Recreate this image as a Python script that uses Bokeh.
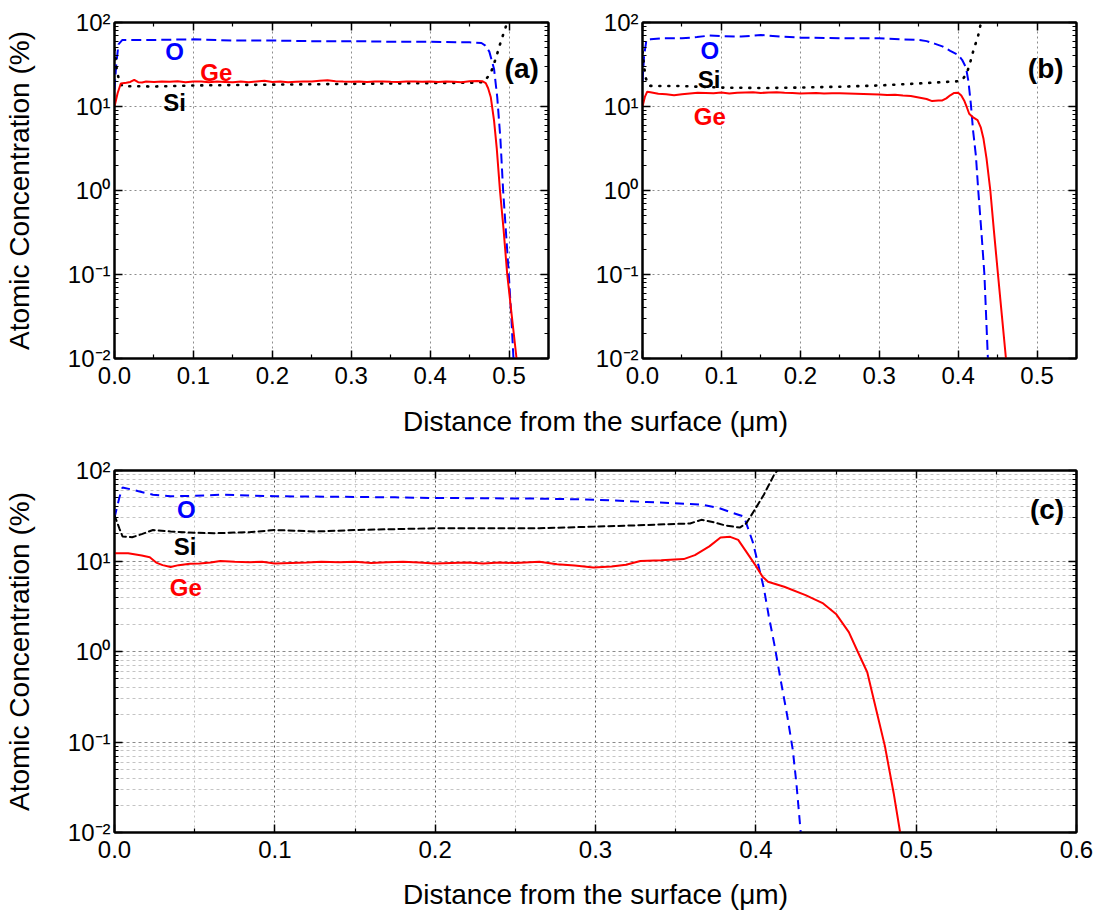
from bokeh.plotting import figure
from bokeh.layouts import column, row
from bokeh.models import (Range1d, FixedTicker, LinearAxis, LogAxis, Label,
                          NumeralTickFormatter)
from bokeh.embed import file_html
from bokeh.resources import INLINE

FONT = "Liberation Sans"

# ---------------- data ----------------
# panel (a)
a_O_x = [0, 0.002, 0.005, 0.01, 0.05, 0.1, 0.15, 0.2, 0.25, 0.3, 0.35, 0.4, 0.45, 0.465, 0.47,
         0.475, 0.481, 0.485, 0.489, 0.4925, 0.496, 0.5, 0.503, 0.5056]
a_O_y = [16, 30, 55, 62, 62, 63, 61, 61, 60, 60, 59, 59, 58, 57, 53, 45, 28, 13, 4.2, 1.0,
         0.33, 0.09, 0.03, 0.01]
a_Si_x = [0, 0.003, 0.006, 0.01, 0.05, 0.1, 0.15, 0.2, 0.25, 0.3, 0.35, 0.4, 0.45, 0.468,
          0.4768, 0.4835, 0.4895, 0.4954, 0.4975]
a_Si_y = [48, 27, 20, 17.5, 17.3, 17.8, 18.0, 18.2, 18.4, 18.6, 18.8, 19.0, 19.2, 19.5, 25, 38,
          59, 86, 100]
a_Ge_x = [0, 0.004, 0.008, 0.015, 0.02, 0.025, 0.03, 0.035, 0.04, 0.05, 0.06, 0.07, 0.08, 0.09,
          0.1, 0.11, 0.12, 0.13, 0.14, 0.15, 0.16, 0.17, 0.18, 0.19, 0.2, 0.21, 0.22, 0.23, 0.24,
          0.25, 0.26, 0.27, 0.28, 0.29, 0.3, 0.31, 0.32, 0.33, 0.34, 0.35, 0.36, 0.37, 0.38, 0.39,
          0.4, 0.41, 0.42, 0.43, 0.44, 0.45, 0.46, 0.466, 0.4705, 0.4735, 0.4768, 0.481, 0.4844,
          0.4885, 0.493, 0.4977, 0.5035, 0.5095]
a_Ge_y = [10, 14.5, 18.8, 19.2, 19.6, 20.8, 19.5, 19.3, 19.8, 19.6, 19.9, 19.7, 20.0, 19.4,
          19.8, 19.9, 19.5, 19.8, 19.6, 19.4, 19.8, 19.5, 19.9, 20.2, 19.6, 19.8, 19.5, 19.7, 19.9,
          19.8, 20.2, 20.6, 20.0, 19.8, 19.7, 19.9, 19.6, 19.8, 19.9, 19.7, 19.6, 19.8, 19.9, 19.7,
          19.8, 19.6, 19.9, 19.7, 19.5, 20.0, 20.1, 20.0, 19.0, 16.5, 13.0, 6.8, 3.2,
          1.0, 0.35, 0.1, 0.032, 0.01]

# panel (b)
b_O_x = [0, 0.002, 0.005, 0.01, 0.025, 0.05, 0.069, 0.085, 0.1, 0.125, 0.15, 0.175, 0.2, 0.25,
         0.3, 0.33, 0.35, 0.36, 0.37, 0.38, 0.39, 0.4, 0.405, 0.41, 0.413, 0.416, 0.419, 0.4225,
         0.4255, 0.4295, 0.4333, 0.4377]
b_O_y = [20, 40, 62, 63, 65, 65, 67, 70, 69, 68, 71, 68, 66, 65, 65, 63, 62, 60, 56, 52, 46, 41,
         36, 29, 20, 11, 5.1, 2.6, 1.0, 0.32, 0.1, 0.01]
b_Si_x = [0, 0.002, 0.004, 0.007, 0.01, 0.05, 0.1, 0.15, 0.2, 0.25, 0.3, 0.35, 0.38, 0.4, 0.405,
          0.411, 0.4148, 0.418, 0.4216, 0.4254, 0.428, 0.4295]
b_Si_y = [45, 30, 22, 18.5, 17.6, 17.5, 16.8, 16.6, 16.8, 17.2, 17.8, 18.8, 19.5, 20.0, 20.5, 25,
          32, 42, 54, 70, 91, 100]
b_Ge_x = [0, 0.003, 0.006, 0.01, 0.02, 0.03, 0.04, 0.05, 0.06, 0.07, 0.08, 0.09, 0.1, 0.11, 0.12,
          0.13, 0.14, 0.15, 0.16, 0.17, 0.18, 0.19, 0.2, 0.21, 0.22, 0.23, 0.24, 0.25, 0.26, 0.27,
          0.28, 0.29, 0.3, 0.31, 0.32, 0.33, 0.34, 0.35, 0.36, 0.367, 0.375, 0.38, 0.385, 0.39,
          0.395, 0.4, 0.404, 0.4076, 0.411, 0.414, 0.419, 0.4246, 0.4288, 0.432, 0.436, 0.4408,
          0.4455, 0.4505, 0.4555, 0.4606]
b_Ge_y = [10, 13, 15, 14.8, 14.2, 14.0, 13.6, 14.0, 14.3, 14.6, 14.5, 14.4, 14.7, 14.3, 14.6,
          14.7, 14.8, 14.5, 14.7, 14.8, 14.6, 14.5, 14.3, 14.4, 14.5, 14.3, 14.4, 14.4, 14.3, 14.2,
          14.1, 14.0, 13.9, 13.7, 13.8, 13.5, 13.3, 12.8, 12.3, 11.6, 11.8, 11.8, 12.5, 13.6,
          14.5, 14.6, 13.5, 11.8, 9.8, 8.2, 7.4, 6.9, 5.6, 4.2, 2.4, 1.0,
          0.32, 0.1, 0.032, 0.01]

# panel (c)
c_O_x = [0, 0.003, 0.005, 0.01, 0.015, 0.024, 0.035, 0.05, 0.066, 0.084, 0.1, 0.125, 0.151,
         0.175, 0.2, 0.235, 0.265, 0.3, 0.332, 0.359, 0.366, 0.377, 0.386, 0.3926, 0.398, 0.4016,
         0.405, 0.408, 0.4117, 0.415, 0.4197, 0.423, 0.4253, 0.428]
c_O_y = [30, 50, 65, 62, 59, 54, 52, 52.5, 54, 53, 52, 51.5, 51, 50.5, 49.7, 49.3, 48.9, 47.6,
         44.9, 42.7, 42, 38.5, 33.8, 31, 16.4, 9.0, 5.0, 2.5, 1.16, 0.54, 0.19, 0.083, 0.035, 0.01]
c_Si_x = [0, 0.003, 0.005, 0.011, 0.017, 0.024, 0.035, 0.05, 0.062, 0.084, 0.1, 0.125, 0.151,
          0.175, 0.2, 0.235, 0.265, 0.3, 0.332, 0.359, 0.366, 0.373, 0.381, 0.39, 0.394, 0.3993,
          0.405, 0.4117, 0.4135]
c_Si_y = [32, 23, 18.7, 18.3, 19.8, 22, 21.2, 20.5, 20.3, 20.8, 22, 21.2, 22, 22.5, 23, 23, 23,
          24, 25, 26, 28.5, 27, 24.7, 23.4, 26, 36.8, 54, 92, 100]
c_Ge_x = [0, 0.0085, 0.017, 0.022, 0.026, 0.03, 0.035, 0.04, 0.047, 0.053, 0.06, 0.066, 0.075,
          0.084, 0.092, 0.1, 0.11, 0.12, 0.129, 0.14, 0.15, 0.16, 0.17, 0.18, 0.19, 0.2, 0.21,
          0.22, 0.23, 0.24, 0.25, 0.265, 0.276, 0.287, 0.2987, 0.31, 0.319, 0.328, 0.341, 0.355,
          0.362, 0.371, 0.378, 0.384, 0.389, 0.394, 0.3997, 0.4042, 0.4076, 0.4177, 0.431, 0.442,
          0.45, 0.458, 0.4635, 0.4695, 0.475, 0.4805, 0.486, 0.49]
c_Ge_y = [12.2, 12.2, 11.5, 11.0, 9.6, 9.0, 8.6, 9.0, 9.3, 9.4, 9.6, 10.0, 9.8, 9.7, 9.8, 9.4,
          9.5, 9.6, 9.8, 9.7, 9.8, 9.5, 9.7, 9.8, 9.6, 9.4, 9.5, 9.6, 9.4, 9.6, 9.5,
          9.8, 9.2, 8.9, 8.5, 8.7, 9.1, 10.0, 10.2, 10.5,
          11.6, 14.5, 18.2, 18.5, 17.1, 12.7, 9.0, 6.7, 5.9,
          5.2, 4.2, 3.4, 2.6, 1.64, 1.0, 0.59, 0.23, 0.09, 0.027, 0.01]

# ticks
y_ticks = [0.01, 0.1, 1, 10, 100]
y_tick_labels = ["10\u207b\u00b2", "10\u207b\u00b9", "10\u2070", "10\u00b9", "10\u00b2"]
y_minor = [m * 10.0 ** e for e in range(-2, 2) for m in range(2, 10)]
x_ticks_top = [0.0, 0.1, 0.2, 0.3, 0.4, 0.5]
x_minor_top = [0.05, 0.15, 0.25, 0.35, 0.45, 0.55]
x_ticks_c = [0.0, 0.1, 0.2, 0.3, 0.4, 0.5, 0.6]
x_minor_c = [0.05, 0.15, 0.25, 0.35, 0.45, 0.55]

X_TITLE = "Distance from the surface (\u03bcm)"
Y_TITLE = "Atomic Concentration (%)"


def style_axis(ax, show_labels):
    ax.axis_line_color = "black"
    ax.axis_line_width = 2
    ax.major_tick_line_color = "black"
    ax.minor_tick_line_color = "black"
    ax.major_tick_line_width = 1.5
    ax.minor_tick_line_width = 1.2
    ax.major_tick_in = 8
    ax.major_tick_out = 0
    ax.minor_tick_in = 4
    ax.minor_tick_out = 0
    ax.major_label_text_font = FONT
    if show_labels:
        ax.major_label_text_color = "black"
        ax.major_label_text_font_size = "24px"
    else:
        ax.major_label_text_color = None
        ax.major_label_text_font_size = "4px"
        ax.major_label_standoff = 0
    ax.axis_label_text_font = FONT
    ax.axis_label_text_font_size = "28px"
    ax.axis_label_text_font_style = "normal"
    ax.axis_label_text_color = "black"


def make_panel(w, h, bl, br, bt, bb, xmax, xticks, xminor, dense):
    p = figure(width=w, height=h, x_range=Range1d(0, xmax), y_range=Range1d(0.01, 100),
               y_axis_type="log", output_backend="svg", toolbar_location=None,
               min_border_left=bl, min_border_right=br, min_border_top=bt, min_border_bottom=bb)
    p.outline_line_color = "black"
    p.outline_line_width = 2
    p.background_fill_color = "white"
    xt = FixedTicker(ticks=xticks, minor_ticks=xminor)
    yt = FixedTicker(ticks=y_ticks, minor_ticks=y_minor)
    bottom = p.below[0]
    left = p.left[0]
    bottom.ticker = xt
    bottom.formatter = NumeralTickFormatter(format="0.0")
    left.ticker = yt
    left.major_label_overrides = dict(zip(y_ticks, y_tick_labels))
    top = LinearAxis(ticker=xt)
    right = LogAxis(ticker=yt)
    p.add_layout(top, "above")
    p.add_layout(right, "right")
    style_axis(bottom, True)
    style_axis(left, True)
    style_axis(top, False)
    style_axis(right, False)
    bottom.major_label_standoff = 8
    left.major_label_standoff = 4
    xg, yg = p.xgrid[0], p.ygrid[0]
    xg.ticker = xt
    yg.ticker = yt
    if dense:
        xg.grid_line_color = "#5a5a5a"
        xg.grid_line_dash = "2 3"
        yg.grid_line_color = "#8a8a8a"
        yg.grid_line_dash = "3 3"
        xg.minor_grid_line_color = "#c4c4c4"
        xg.minor_grid_line_dash = "2 3"
        yg.minor_grid_line_color = "#c4c4c4"
        yg.minor_grid_line_dash = "3 3"
    else:
        for g in (xg, yg):
            g.grid_line_color = "#8c8c8c"
            g.grid_line_dash = "2 3"
            g.grid_line_width = 1
    return p


def add_curves(p, ox, oy, sx, sy, gx, gy, si_dash, si_width, o_dash):
    p.line(ox, oy, line_color="#0000ff", line_width=2, line_dash=o_dash)
    p.line(sx, sy, line_color="black", line_width=si_width, line_dash=si_dash, line_cap="round")
    p.line(gx, gy, line_color="#ff0000", line_width=2)


def add_text(p, x, y, text, color, size="24px"):
    p.add_layout(Label(x=x, y=y, text=text, text_color=color, text_font=FONT,
                       text_font_style="bold", text_font_size=size,
                       text_align="center", text_baseline="middle"))


# ---------------- panel (a) ----------------
pa = make_panel(580, 400, 114, 32, 22, 42, 0.55, x_ticks_top, x_minor_top, False)
pa.left[0].axis_label = Y_TITLE
pa.left[0].axis_label_standoff = 30
add_curves(pa, a_O_x, a_O_y, a_Si_x, a_Si_y, a_Ge_x, a_Ge_y, "1 8", 2.6, "10 5")
add_text(pa, 0.076, 45, "O", "#0000ff")
add_text(pa, 0.129, 25.4, "Ge", "#ff0000")
add_text(pa, 0.076, 11.2, "Si", "black")
add_text(pa, 0.516, 28.6, "(a)", "black", "28px")

# ---------------- panel (b) ----------------
pb = make_panel(523, 400, 62, 27, 22, 42, 0.55, x_ticks_top, x_minor_top, False)
add_curves(pb, b_O_x, b_O_y, b_Si_x, b_Si_y, b_Ge_x, b_Ge_y, "1 8", 2.6, "10 5")
add_text(pb, 0.0853, 47, "O", "#0000ff")
add_text(pb, 0.0845, 20.7, "Si", "black")
add_text(pb, 0.0853, 7.6, "Ge", "#ff0000")
add_text(pb, 0.511, 28.6, "(b)", "black", "28px")

# ---------------- shared x title of the upper row (centred on the common width) ----------------
pt = figure(width=1103, height=45, x_range=Range1d(0, 1), y_range=Range1d(0, 45),
            output_backend="svg", toolbar_location=None,
            min_border_left=114, min_border_right=27, min_border_top=0, min_border_bottom=0,
            x_axis_location=None, y_axis_location=None)
pt.outline_line_color = None
pt.grid.visible = False
pt.add_layout(Label(x=0.5, y=24, text=X_TITLE, text_font=FONT, text_font_size="28px",
                    text_color="black", text_align="center", text_baseline="middle"))

# ---------------- panel (c) ----------------
pc = make_panel(1103, 473, 114, 27, 25, 86, 0.6, x_ticks_c, x_minor_c, True)
pc.left[0].axis_label = Y_TITLE
pc.left[0].axis_label_standoff = 30
pc.below[0].axis_label = X_TITLE
pc.below[0].axis_label_standoff = 18
add_curves(pc, c_O_x, c_O_y, c_Si_x, c_Si_y, c_Ge_x, c_Ge_y, "6 4", 2, "9 6")
add_text(pc, 0.0448, 36.9, "O", "#0000ff")
add_text(pc, 0.044, 14.5, "Si", "black")
add_text(pc, 0.0445, 5.06, "Ge", "#ff0000")
add_text(pc, 0.5816, 36.9, "(c)", "black", "28px")

layout = column(row(pa, pb, spacing=0), pt, pc, spacing=0)

with open("out.html", "w") as f:
    f.write(file_html(layout, INLINE))
